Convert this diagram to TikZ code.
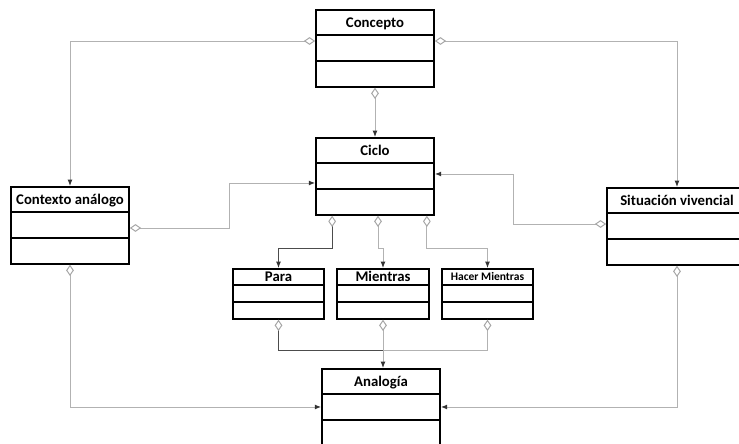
\documentclass[tikz,border=0pt]{standalone}
\usepackage{fontspec}
\setmainfont{Carlito}
\usetikzlibrary{arrows.meta,calc}

\tikzset{
  clase/.style={draw, line width=1.2pt, inner sep=0pt, anchor=north,
    minimum width=#1, font=\bfseries\fontsize{10.5}{12}\selectfont,
    text height=12.3pt, text depth=42.5pt,
    path picture={
      \draw[line width=1.2pt] ([yshift=-0.625cm]path picture bounding box.north west)
        -- ([yshift=-0.625cm]path picture bounding box.north east);
      \draw[line width=1.2pt] ([yshift=-1.275cm]path picture bounding box.north west)
        -- ([yshift=-1.275cm]path picture bounding box.north east);
    }},
  clase/.default=2.95cm,
  clasechica/.style={draw, line width=1.2pt, inner sep=0pt, anchor=north,
    minimum width=#1, font=\bfseries\fontsize{10.5}{12}\selectfont,
    text height=9.1pt, text depth=26.5pt,
    path picture={
      \draw[line width=1.2pt] ([yshift=-0.4cm]path picture bounding box.north west)
        -- ([yshift=-0.4cm]path picture bounding box.north east);
      \draw[line width=1.2pt] ([yshift=-0.825cm]path picture bounding box.north west)
        -- ([yshift=-0.825cm]path picture bounding box.north east);
    }},
  clasechica/.default=2.275cm,
  enlace/.style={draw=gray!60, line width=0.7pt,
    {Diamond[open,length=8pt,width=5.5pt,color=gray!70]}-{Latex[length=4.5pt,width=3.5pt,color=black!80]}},
  union/.style={draw=gray!60, line width=0.7pt,
    {Diamond[open,length=8pt,width=5.5pt,color=gray!70]}-},
  oscuro/.style={draw=black!70},
}

\begin{document}
\begin{tikzpicture}[x=0.025cm,y=-0.025cm]
\clip (0,0) rectangle (739,444);

% clases
\node[clase] (concepto) at (375,9) {Concepto};
\node[clase] (ciclo) at (375,137) {Ciclo};
\node[clase] (contexto) at (70,186) {Contexto análogo};
\node[clase=3.5cm] (situacion) at (677,187) {Situación vivencial};
\node[clasechica] (para) at (278.5,268) {Para};
\node[clasechica=2.3cm] (mientras) at (383,268) {Mientras};
\node[clasechica, font=\bfseries\fontsize{8.2}{10}\selectfont,
  text height=8.4pt, text depth=27.2pt] (hacer) at (487.5,268) {Hacer Mientras};
\node[clase] (analogia) at (381,368) {Analogía};

% relaciones
\draw[enlace] ($(concepto.north west)+(0,32)$) -| (contexto.north);
\draw[enlace] ($(concepto.north east)+(0,32)$) -| (situacion.north);
\draw[enlace] (concepto.south) -- (ciclo.north);
\draw[enlace] ($(contexto.north east)+(0,42)$) -- ++(100,0) |- ($(ciclo.north west)+(0,46)$);
\draw[enlace] ($(situacion.north west)+(0,37)$) -- ++(-93,0) |- ($(ciclo.north east)+(0,37)$);

\draw[enlace, oscuro] ($(ciclo.south west)+(17,0)$) -- ++(0,33) -| (para.north);
\draw[enlace] ($(ciclo.south)+(3,0)$) -- ++(0,33) -| (mientras.north);
\draw[enlace] ($(ciclo.south east)+(-8,0)$) -- ++(0,33) -| (hacer.north);

\coordinate (cruce) at ($(mientras.south)+(0,31)$);
\draw[union, oscuro] (para.south) |- (cruce);
\draw[union] (hacer.south) |- (cruce);
\draw[enlace] (mientras.south) -- (mientras.south |- analogia.north);

\draw[enlace] (contexto.south) |- ($(analogia.north west)+(0,39)$);
\draw[enlace] (situacion.south) |- ($(analogia.north east)+(0,39)$);
\end{tikzpicture}
\end{document}
